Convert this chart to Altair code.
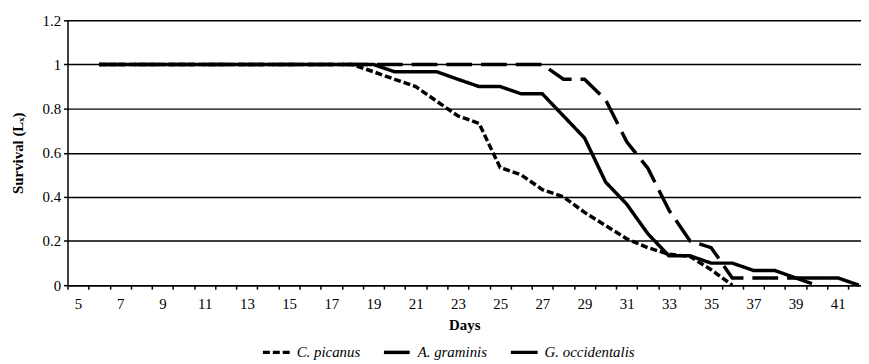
import altair as alt
import pandas as pd

# ---- data ----
species = ["C. picanus", "A. graminis", "G. occidentalis"]

picanus_days = list(range(6, 37))
picanus_vals = [1] * 13 + [0.967, 0.933, 0.9, 0.833, 0.767, 0.733, 0.533, 0.5,
                           0.433, 0.4, 0.33, 0.27, 0.21, 0.17, 0.14, 0.13, 0.07, 0.0]

graminis_days = list(range(6, 41))
graminis_vals = [1] * 22 + [0.933, 0.933, 0.84, 0.65, 0.53, 0.34, 0.2, 0.17,
                            0.033, 0.033, 0.033, 0.033, 0.0]

occidentalis_days = list(range(6, 43))
occidentalis_vals = [1] * 14 + [0.967, 0.967, 0.967, 0.933, 0.9, 0.9, 0.867, 0.867,
                                0.767, 0.667, 0.467, 0.367, 0.233, 0.133, 0.133, 0.1,
                                0.1, 0.067, 0.067, 0.033, 0.033, 0.033, 0.0]

y_ticks = [0, 0.2, 0.4, 0.6, 0.8, 1.0, 1.2]
x_tick_bounds = [k + 0.5 for k in range(4, 42)]

rows = []
for name, ds, vs in [(species[0], picanus_days, picanus_vals),
                     (species[1], graminis_days, graminis_vals),
                     (species[2], occidentalis_days, occidentalis_vals)]:
    for d, v in zip(ds, vs):
        rows.append({"day": d, "value": v, "species": name})
df = pd.DataFrame(rows)

FONT = "Liberation Serif, DejaVu Serif, Times New Roman, serif"
day_px = 800 / (42.1 - 4.5)

chart = alt.Chart(df).mark_line(
    color="black", strokeWidth=3.5, strokeCap="butt", strokeJoin="miter"
).encode(
    x=alt.X("day:Q",
            scale=alt.Scale(domain=[4.5, 42.1], nice=False, zero=False),
            axis=alt.Axis(values=x_tick_bounds,
                          labelExpr="datum.value % 2 == 0.5 ? toString(datum.value + 0.5) : ''",
                          labelOffset=day_px / 2, labelFlush=False, labelOverlap=False,
                          labelBound=False, grid=False, tickSize=4, labelPadding=8,
                          title="Days", titleY=33, titleBaseline="top")),
    y=alt.Y("value:Q",
            scale=alt.Scale(domain=[0, 1.2], nice=False, zero=True),
            axis=alt.Axis(values=y_ticks,
                          labelExpr="toString(round(datum.value * 10) / 10)",
                          grid=True, gridColor="black", gridWidth=1.5, gridOpacity=1,
                          tickSize=4, labelPadding=3,
                          title="Survival (Lₓ)", titleX=-42, titleY=133.5)),
    strokeDash=alt.StrokeDash("species:N",
                              scale=alt.Scale(domain=species,
                                              range=[[7, 3], [26, 9], [1, 0]]),
                              legend=alt.Legend(orient="none", legendX=195, legendY=319,
                                                direction="horizontal", title=None,
                                                symbolType="stroke", symbolSize=729,
                                                symbolStrokeWidth=3.5,
                                                symbolStrokeColor="black",
                                                labelFont=FONT, labelFontSize=15,
                                                labelFontStyle="italic",
                                                labelColor="black", labelOffset=5,
                                                columnPadding=16, padding=0)),
).properties(
    width=800, height=267,
    autosize=alt.AutoSizeParams(type="none"),
    padding={"left": 60, "top": 11, "right": 0, "bottom": 77},
).configure_view(
    stroke=None
).configure_axis(
    domainColor="black", domainWidth=1.5, tickColor="black", tickWidth=1.5,
    labelFont=FONT, labelFontSize=15, labelColor="black",
    titleFont=FONT, titleFontSize=15, titleFontWeight="bold", titleColor="black",
)

chart.save("out.html", embed_options={"renderer": "svg", "actions": False})
